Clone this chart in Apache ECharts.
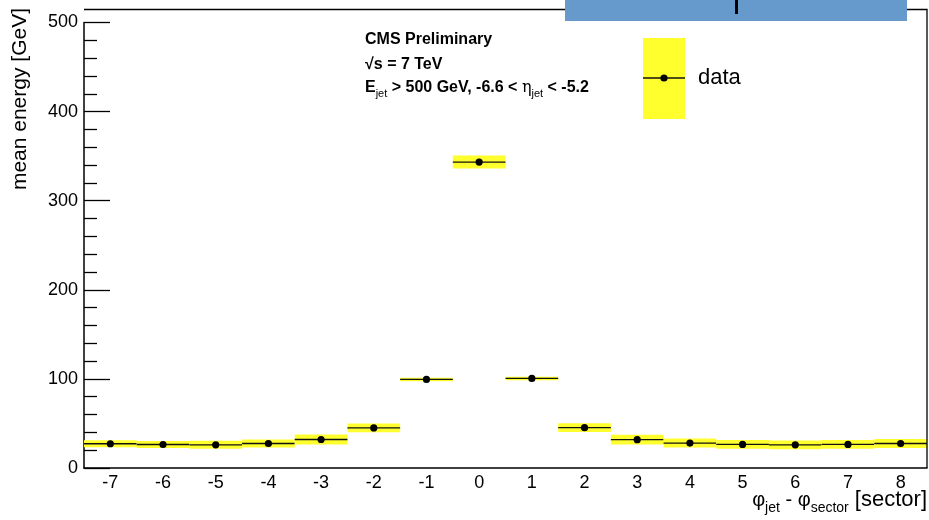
<!DOCTYPE html>
<html>
<head>
<meta charset="utf-8">
<script src="https://cdn.jsdelivr.net/npm/echarts@6/dist/echarts.min.js"></script>
<style>
  html, body { margin: 0; padding: 0; background: #fff; }
  #chart { width: 929px; height: 520px; }
</style>
</head>
<body>
<div id="chart"></div>
<script>
// ── data ──
const sectors = ["-7", "-6", "-5", "-4", "-3", "-2", "-1", "0", "1", "2", "3", "4", "5", "6", "7", "8"];
const meanEnergy = [27.2, 26.4, 26.0, 27.5, 32.0, 45.0, 99.4, 343.4, 100.5, 45.3, 31.8, 28.0, 26.5, 26.0, 26.5, 27.5];
const errEnergy = [4.0, 4.0, 4.5, 4.5, 5.5, 5.0, 2.0, 7.3, 2.0, 5.0, 5.5, 5.0, 5.0, 5.0, 5.0, 5.0];
const yTicks = { min: 0, max: 500, step: 100 };

const YELLOW = "#ffff2e";
const FONT = "Liberation Sans, Arial, sans-serif";

const chart = echarts.init(document.getElementById("chart"), null, { renderer: "canvas" });

// histogram bins: yellow error band + horizontal bar + dot
function renderBin(params, api) {
  const i = api.value(0), v = api.value(1), e = api.value(2);
  const c = api.coord([i, v]);
  const w = api.size([1, 0])[0];
  const top = api.coord([i, v + e])[1];
  const bot = api.coord([i, v - e])[1];
  return {
    type: "group",
    children: [
      { type: "rect", shape: { x: c[0] - w / 2, y: top, width: w, height: bot - top }, style: { fill: YELLOW } },
      { type: "line", shape: { x1: c[0] - w / 2, y1: c[1], x2: c[0] + w / 2, y2: c[1] }, style: { stroke: "#111", lineWidth: 1.3 } },
      { type: "circle", shape: { cx: c[0], cy: c[1], r: 3.6 }, style: { fill: "#000" } },
    ],
  };
}

const option = {
  animation: false,
  backgroundColor: "#fff",
  grid: { left: 84, right: 2, top: 22.5, bottom: 52, containLabel: false },
  xAxis: {
    type: "category",
    data: sectors,
    boundaryGap: true,
    axisLine: { lineStyle: { color: "#000", width: 1.5 } },
    axisTick: { alignWithLabel: true, inside: true, length: 13, lineStyle: { color: "#000", width: 1.3 } },
    axisLabel: { color: "#000", fontSize: 18, fontFamily: FONT, margin: 6 },
    splitLine: { show: false },
  },
  yAxis: {
    type: "value",
    min: yTicks.min,
    max: yTicks.max,
    interval: yTicks.step,
    axisLine: { show: true, lineStyle: { color: "#000", width: 1.5 } },
    axisTick: { show: true, inside: true, length: 26, lineStyle: { color: "#000", width: 1.3 } },
    minorTick: { show: true, splitNumber: 5, length: 13, lineStyle: { color: "#000", width: 1.3 } },
    axisLabel: { color: "#000", fontSize: 18, fontFamily: FONT, margin: 6 },
    splitLine: { show: false },
  },
  series: [{
    type: "custom",
    renderItem: renderBin,
    encode: { x: 0, y: 1 },
    data: sectors.map((_, i) => [i, meanEnergy[i], errEnergy[i]]),
    z: 2,
  }],
  graphic: [
    // top + right frame (ROOT-style box; sits above the 500 tick)
    { type: "polyline", shape: { points: [[84, 9.5], [927, 9.5], [927, 468]] }, style: { stroke: "#000", lineWidth: 1.3, fill: null }, z: 10 },
    // blue title strip cut at the top
    { type: "rect", shape: { x: 565, y: 0, width: 342, height: 21 }, style: { fill: "#6699cc" }, z: 11 },
    { type: "rect", shape: { x: 735, y: 0, width: 3, height: 14 }, style: { fill: "#000" }, z: 12 },
    // axis titles
    {
      type: "text", x: 20, y: 8, rotation: Math.PI / 2,
      style: { text: "mean energy [GeV]", font: "21px " + FONT, fill: "#000", align: "right", verticalAlign: "middle" },
    },
    {
      type: "text", x: 927, y: 500,
      style: {
        text: "{g|φ}{s|jet}{g| - φ}{s|sector}{t| [sector]}",
        align: "right", verticalAlign: "middle", fill: "#000",
        rich: {
          g: { font: "20px " + FONT, fill: "#000" },
          s: { font: "14px " + FONT, fill: "#000", padding: [16, 0, 0, 0] },
          t: { font: "22px " + FONT, fill: "#000" },
        },
      },
    },
    // CMS label block
    { type: "text", x: 365, y: 40, style: { text: "CMS Preliminary", font: "bold 16px " + FONT, fill: "#000", verticalAlign: "middle" } },
    { type: "text", x: 365, y: 65, style: { text: "√s = 7 TeV", font: "bold 16px " + FONT, fill: "#000", verticalAlign: "middle" } },
    {
      type: "text", x: 365, y: 88,
      style: {
        text: "{b|E}{s|jet}{b| > 500 GeV, -6.6 < }{e|η}{s|jet}{b| < -5.2}",
        verticalAlign: "middle", fill: "#000",
        rich: {
          b: { font: "bold 16px " + FONT, fill: "#000" },
          s: { font: "11px " + FONT, fill: "#000", padding: [12, 0, 0, 0] },
          e: { font: "16px DejaVu Serif, serif", fill: "#000" },
        },
      },
    },
    // legend
    { type: "rect", shape: { x: 643, y: 38, width: 42, height: 81 }, style: { fill: YELLOW }, z: 10 },
    { type: "line", shape: { x1: 643, y1: 78, x2: 685, y2: 78 }, style: { stroke: "#111", lineWidth: 1.3 }, z: 11 },
    { type: "circle", shape: { cx: 664, cy: 78, r: 3.6 }, style: { fill: "#000" }, z: 11 },
    { type: "text", x: 698, y: 78, style: { text: "data", font: "22px " + FONT, fill: "#000", verticalAlign: "middle" }, z: 11 },
  ],
};

chart.setOption(option);
</script>
</body>
</html>
